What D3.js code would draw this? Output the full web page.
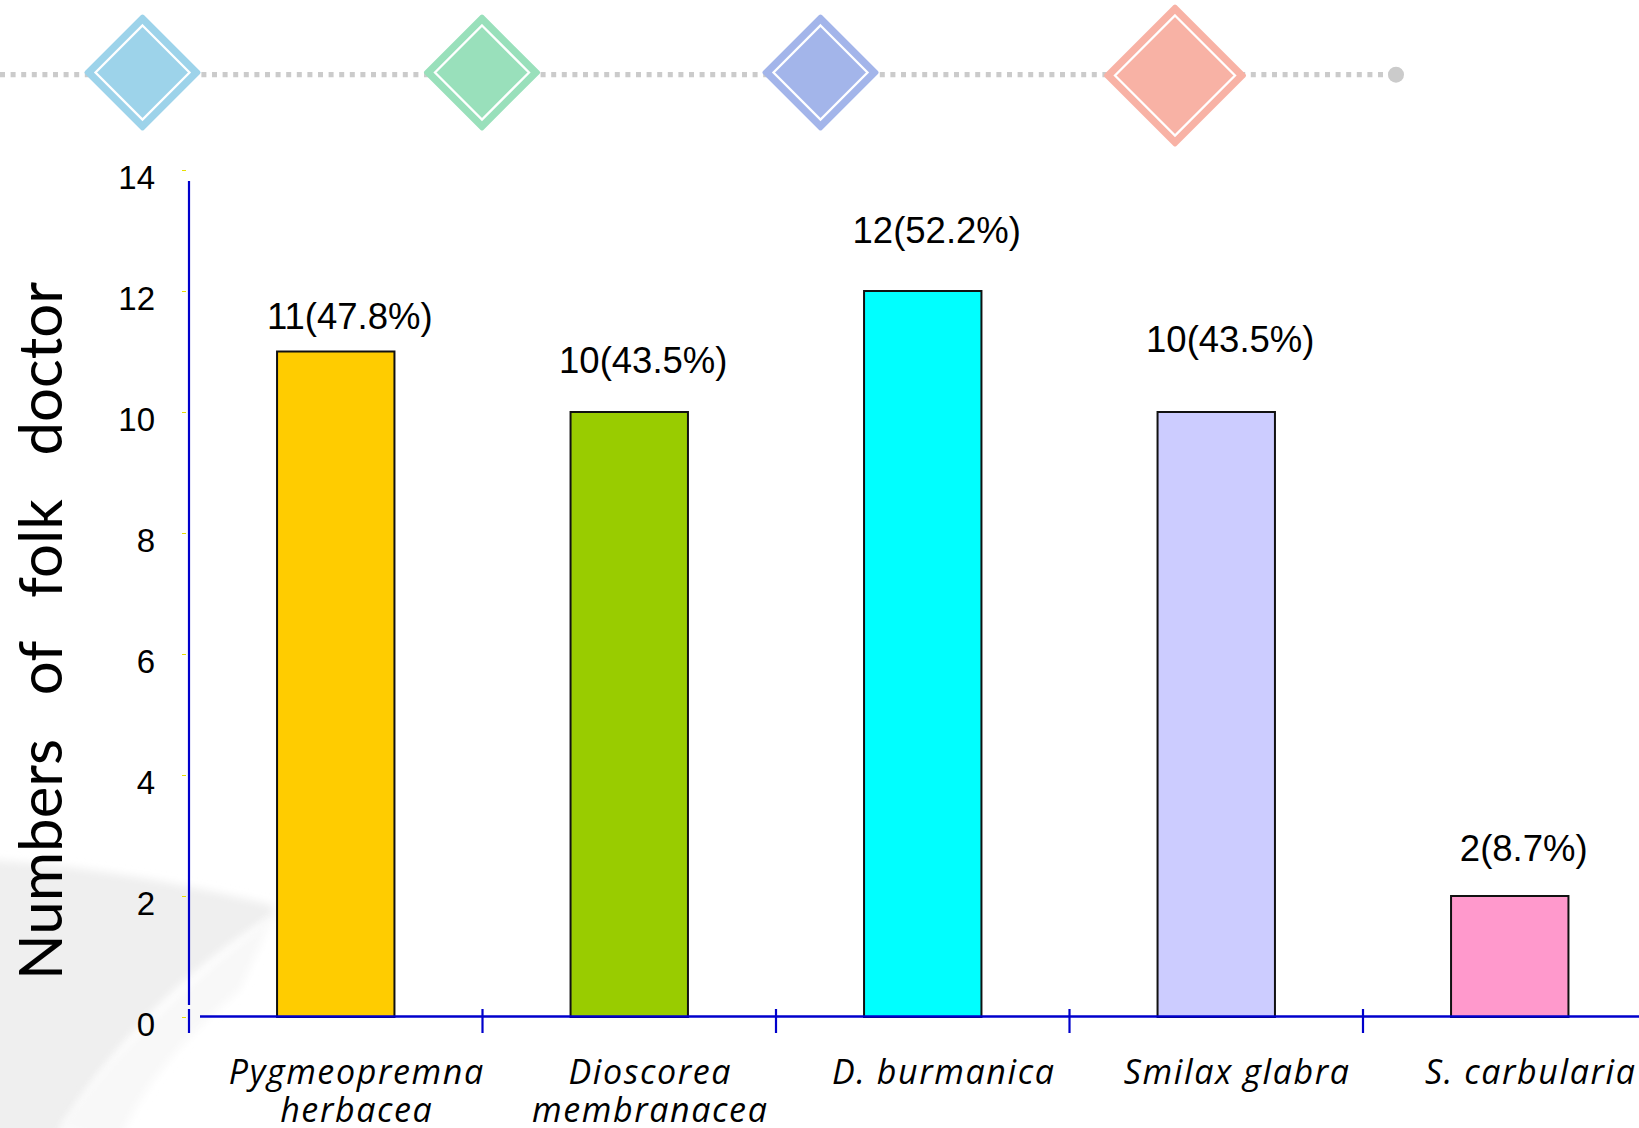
<!DOCTYPE html>
<html>
<head>
<meta charset="utf-8">
<script src="https://cdn.jsdelivr.net/npm/d3@7"></script>
<style>
  html, body { margin: 0; padding: 0; background: #ffffff; }
  svg { display: block; }
</style>
</head>
<body>
<svg id="chart" width="1639" height="1128"></svg>
<script>
// ---- data ----
const species = ["Pygmeopremna herbacea", "Dioscorea membranacea", "D. burmanica", "Smilax glabra", "S. carbularia"];
const speciesLines = [["Pygmeopremna", "herbacea"], ["Dioscorea", "membranacea"], ["D. burmanica"], ["Smilax glabra"], ["S. carbularia"]];
const doctorCounts = [11, 10, 12, 10, 2];
const doctorShares = [47.8, 43.5, 52.2, 43.5, 8.7];
const yTickValues = [0, 2, 4, 6, 8, 10, 12, 14];
const yTitle = "Numbers of folk doctor";

// ---- styling ----
const barColors = ["#ffcc00", "#99cc00", "#00ffff", "#ccccff", "#ff99cc"];
const bannerColors = ["#9dd3ea", "#99e0bb", "#a3b5ea", "#f8b2a5"];
const axisBlue = "#0000cc";
const numFont = "'Liberation Sans', Arial, sans-serif";

// ---- layout ----
const W = 1639, H = 1128;
const plotLeft = 189, step = 293.5;
const y0 = 1017, yTop = 170;
const labelLift = [23, 39, 48, 60, 35];   // gap between bar top and its value label
const labelShift = 14;
const nameShift = 21;

const svg = d3.select("#chart");

// soft grey swoosh in the lower-left corner
const defs = svg.append("defs");
defs.append("filter").attr("id", "soft")
  .attr("x", "-20%").attr("y", "-20%").attr("width", "140%").attr("height", "140%")
  .append("feGaussianBlur").attr("stdDeviation", 4);
svg.append("path")
  .attr("d", "M-10,860 C90,866 190,885 272,905 L274,915 C200,960 120,1030 55,1140 L-10,1140 Z")
  .attr("fill", "#efefef")
  .attr("filter", "url(#soft)");
svg.append("path")
  .attr("d", "M60,1128 C120,1040 200,975 274,915 L240,990 C180,1040 140,1090 120,1140 Z")
  .attr("fill", "#f8f8f8")
  .attr("filter", "url(#soft)");

// ---- decorative banner: dotted rail with diamonds ----
const rail = svg.append("g");
rail.append("line")
  .attr("x1", 0).attr("x2", 1396).attr("y1", 74.7).attr("y2", 74.7)
  .attr("stroke", "#cbcbcb").attr("stroke-width", 5.3)
  .attr("stroke-dasharray", "5,5.6");
rail.append("circle").attr("cx", 1396).attr("cy", 74.7).attr("r", 8).attr("fill", "#cbcbcb");

const diamonds = [
  { cx: 142.5, cy: 72.5, r: 58 },
  { cx: 482, cy: 72.5, r: 58 },
  { cx: 820.5, cy: 72.5, r: 58 },
  { cx: 1175, cy: 75.5, r: 71 }
];
const diamondPath = (d, r) =>
  `M${d.cx},${d.cy - r} L${d.cx + r},${d.cy} L${d.cx},${d.cy + r} L${d.cx - r},${d.cy} Z`;
const dg = rail.selectAll("g.diamond").data(diamonds).join("g").attr("class", "diamond");
dg.append("path")
  .attr("d", d => diamondPath(d, d.r - 2))
  .attr("fill", (d, i) => bannerColors[i])
  .attr("stroke", (d, i) => bannerColors[i])
  .attr("stroke-width", 4)
  .attr("stroke-linejoin", "round");
dg.append("path")
  .attr("d", d => diamondPath(d, d.r - 11))
  .attr("fill", "none")
  .attr("stroke", "#ffffff")
  .attr("stroke-width", 2.3);

// ---- scales ----
const x = d3.scaleBand().domain(species).range([plotLeft, plotLeft + step * species.length]).padding(0);
const y = d3.scaleLinear().domain([0, 14]).range([y0, yTop]);

// ---- y axis ----
const yAxis = svg.append("g")
  .attr("transform", `translate(186,0)`)
  .call(d3.axisLeft(y).tickValues(yTickValues).tickSize(4).tickPadding(27).tickFormat(d3.format("d")));
yAxis.select(".domain").remove();
yAxis.selectAll(".tick line").attr("stroke", "#e8e000").attr("stroke-width", 1).attr("x2", 0).attr("x1", -4);
yAxis.selectAll(".tick text")
  .attr("dy", 18.5)
  .attr("fill", "#000")
  .style("font-family", numFont)
  .style("font-size", "33px");

svg.append("line")
  .attr("x1", plotLeft).attr("x2", plotLeft)
  .attr("y1", 181).attr("y2", 1005)
  .attr("stroke", axisBlue).attr("stroke-width", 2.2);

// ---- bars ----
const barW = x.step() * 0.4;
svg.append("g").selectAll("rect")
  .data(species)
  .join("rect")
  .attr("x", d => x(d) + (x.step() - barW) / 2)
  .attr("y", (d, i) => y(doctorCounts[i]))
  .attr("width", barW)
  .attr("height", (d, i) => y(0) - y(doctorCounts[i]))
  .attr("fill", (d, i) => barColors[i])
  .attr("stroke", "#111")
  .attr("stroke-width", 2);

// ---- x axis ----
svg.append("line")
  .attr("x1", 200).attr("x2", W)
  .attr("y1", 1016.5).attr("y2", 1016.5)
  .attr("stroke", axisBlue).attr("stroke-width", 2.6);

const boundaries = species.map(d => x(d)).concat([x.range()[1]]);
svg.append("g").selectAll("line")
  .data(boundaries)
  .join("line")
  .attr("x1", d => d).attr("x2", d => d)
  .attr("y1", 1009).attr("y2", 1033)
  .attr("stroke", axisBlue).attr("stroke-width", 2.2);

// category names
const names = svg.append("g")
  .style("font-family", "'Open Sans', sans-serif")
  .style("font-style", "italic")
  .style("font-size", "34px")
  .style("letter-spacing", "1.6px")
  .attr("fill", "#000");
names.selectAll("text")
  .data(species)
  .join("text")
  .attr("text-anchor", "middle")
  .each(function (d, i) {
    const cx = x(d) + x.bandwidth() / 2 + nameShift;
    d3.select(this).selectAll("tspan")
      .data(speciesLines[i])
      .join("tspan")
      .attr("x", cx)
      .attr("y", (t, k) => 1084 + k * 38)
      .text(t => t);
  });

// ---- value labels ----
svg.append("g").selectAll("text")
  .data(species)
  .join("text")
  .attr("x", d => x(d) + x.bandwidth() / 2 + labelShift)
  .attr("y", (d, i) => y(doctorCounts[i]) - labelLift[i])
  .attr("text-anchor", "middle")
  .style("font-family", numFont)
  .style("font-size", "36.5px")
  .attr("fill", "#000")
  .text((d, i) => `${doctorCounts[i]}(${doctorShares[i].toFixed(1)}%)`);

// ---- y title, words spread over the axis height ----
const title = svg.append("text")
  .attr("transform", "translate(62,631) rotate(-90)")
  .attr("text-anchor", "middle")
  .style("font-family", "Lato, sans-serif")
  .style("font-size", "60px")
  .attr("fill", "#000")
  .text(yTitle);
const natural = title.node().getComputedTextLength();
const gaps = yTitle.split(" ").length - 1;
title.style("word-spacing", `${(698 - natural) / gaps}px`);
</script>
</body>
</html>
